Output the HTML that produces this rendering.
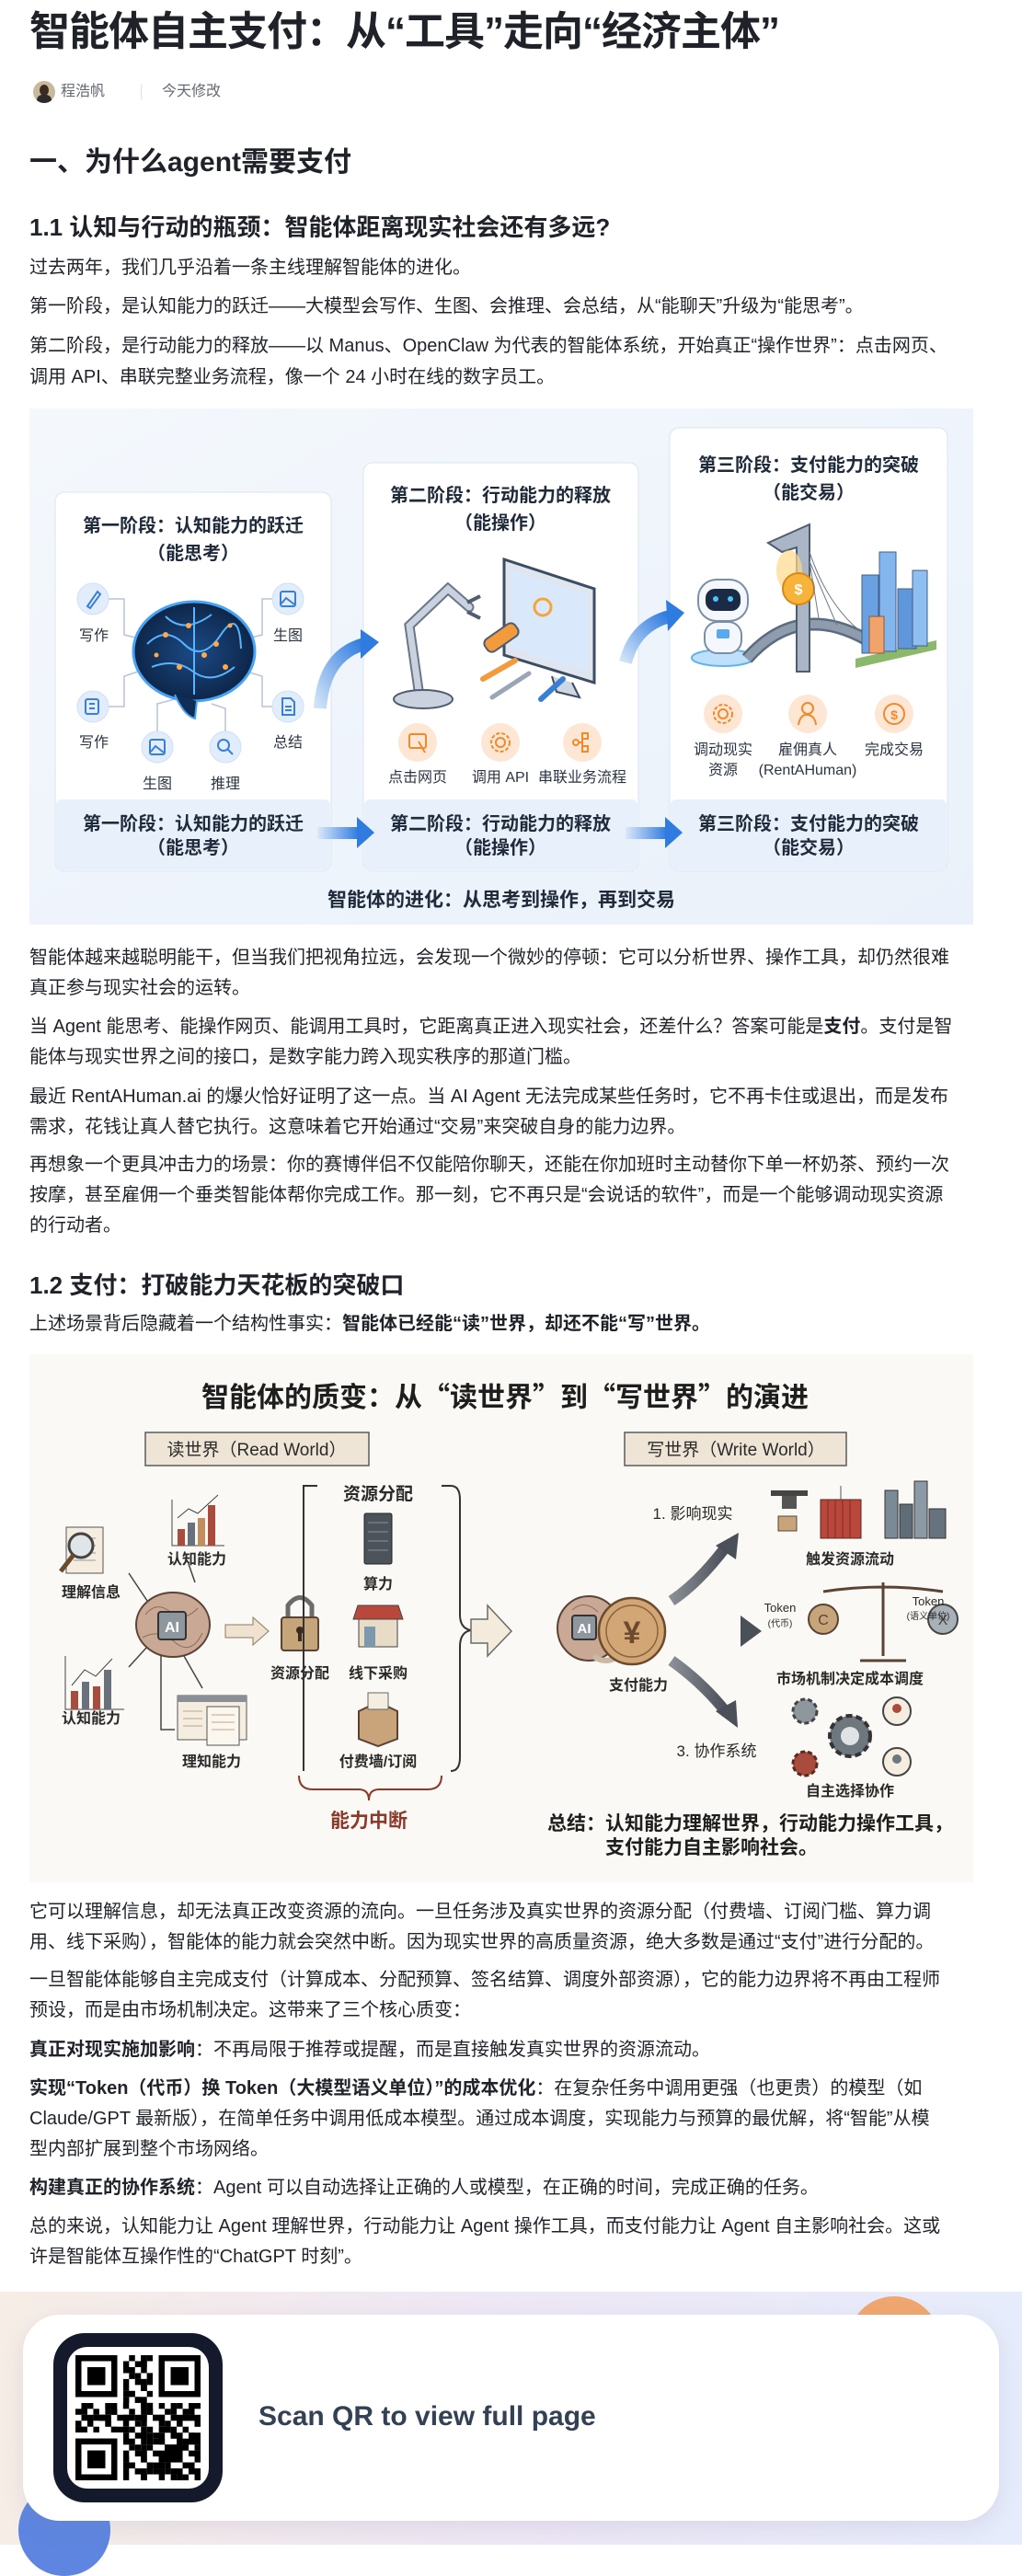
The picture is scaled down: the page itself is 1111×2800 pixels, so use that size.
<!DOCTYPE html>
<html><head><meta charset="utf-8">
<style>
*{margin:0;padding:0;box-sizing:border-box}
body{width:1111px;height:2766px;position:relative;background:#fff;font-family:"Liberation Sans","Noto Sans CJK SC",sans-serif;color:#1f2329;overflow:hidden}
.a{position:absolute;white-space:nowrap}
.p{position:absolute;left:32px;font-size:20px;line-height:33px;white-space:nowrap;color:#1f2329}
b{font-weight:700}
svg text{font-family:"Liberation Sans","Noto Sans CJK SC",sans-serif}
</style></head><body>

<div class="a" style="left:32px;top:8px;font-size:44px;line-height:54px;font-weight:700;letter-spacing:-1px">智能体自主支付：从“工具”走向“经济主体”</div>

<div class="a" style="left:36px;top:88px;width:24px;height:24px;border-radius:50%;background:#c9b89a;overflow:hidden"><div style="position:absolute;left:7px;top:4px;width:10px;height:12px;border-radius:50%;background:#3a2a20"></div><div style="position:absolute;left:4px;top:15px;width:16px;height:12px;border-radius:6px;background:#2b2b2b"></div></div>
<div class="a" style="left:66px;top:89px;font-size:16px;line-height:22px;color:#646a73">程浩帆</div>
<div class="a" style="left:153px;top:92px;width:1px;height:16px;background:#dee0e3"></div>
<div class="a" style="left:176px;top:89px;font-size:16px;line-height:22px;color:#646a73">今天修改</div>

<div class="a" style="left:32px;top:156px;font-size:30px;line-height:42px;font-weight:700">一、为什么agent需要支付</div>
<div class="a" style="left:32px;top:229px;font-size:26px;line-height:36px;font-weight:700">1.1 认知与行动的瓶颈：智能体距离现实社会还有多远?</div>

<div class="p" style="top:274px;line-height:34px">过去两年，我们几乎沿着一条主线理解智能体的进化。</div>
<div class="p" style="top:316px;line-height:34px">第一阶段，是认知能力的跃迁——大模型会写作、生图、会推理、会总结，从“能聊天”升级为“能思考”。</div>
<div class="p" style="top:359px;line-height:34px">第二阶段，是行动能力的释放——以 Manus、OpenClaw 为代表的智能体系统，开始真正“操作世界”：点击网页、<br>调用 API、串联完整业务流程，像一个 24 小时在线的数字员工。</div>

<svg class="a" style="left:32px;top:444px" width="1026" height="561" viewBox="32 444 1026 561">
<defs>
<linearGradient id="bg1" x1="0" y1="0" x2="1" y2="1"><stop offset="0" stop-color="#f4f8fd"/><stop offset="1" stop-color="#eaf1fa"/></linearGradient>
<linearGradient id="arr" x1="0" y1="1" x2="1" y2="0"><stop offset="0" stop-color="#cfe2f8"/><stop offset="1" stop-color="#2f7be0"/></linearGradient>
<linearGradient id="arrh" x1="0" y1="0" x2="1" y2="0"><stop offset="0" stop-color="#dbe9fa"/><stop offset="1" stop-color="#2f7be0"/></linearGradient>
<radialGradient id="brain" cx=".5" cy=".5" r=".6"><stop offset="0" stop-color="#1b4a86"/><stop offset="1" stop-color="#0b1f3c"/></radialGradient>
</defs>
<rect x="32" y="444" width="1026" height="561" fill="url(#bg1)"/>
<rect x="60" y="535" width="300" height="412" rx="10" fill="#fff" stroke="#dbe4f0"/>
<rect x="395" y="503" width="299" height="444" rx="10" fill="#fff" stroke="#dbe4f0"/>
<rect x="728" y="465" width="302" height="482" rx="10" fill="#fff" stroke="#dbe4f0"/>
<rect x="61" y="869" width="298" height="77" rx="6" fill="#e7f0fb"/>
<rect x="396" y="869" width="297" height="77" rx="6" fill="#e7f0fb"/>
<rect x="729" y="869" width="300" height="77" rx="6" fill="#e7f0fb"/>
<g font-size="20" font-weight="700" fill="#1f2a3a" text-anchor="middle">
<text x="210" y="578">第一阶段：认知能力的跃迁</text><text x="210" y="608">（能思考）</text>
<text x="544" y="545">第二阶段：行动能力的释放</text><text x="544" y="575">（能操作）</text>
<text x="879" y="512">第三阶段：支付能力的突破</text><text x="879" y="542">（能交易）</text>
<text x="210" y="902">第一阶段：认知能力的跃迁</text><text x="210" y="928">（能思考）</text>
<text x="544" y="902">第二阶段：行动能力的释放</text><text x="544" y="928">（能操作）</text>
<text x="879" y="902">第三阶段：支付能力的突破</text><text x="879" y="928">（能交易）</text>
<text x="545" y="985" font-size="21">智能体的进化：从思考到操作，再到交易</text>
</g>
<g stroke="#b8c4d4" stroke-width="1.5" fill="none">
<path d="M118 651 H135 V690 L155 695"/><path d="M296 651 H285 V690 L266 695"/>
<path d="M118 768 H135 V735 L150 730"/><path d="M296 768 H285 V735 L268 730"/>
<path d="M171 795 V765 L190 760"/><path d="M245 795 V770 L230 765"/>
</g>
<ellipse cx="211" cy="708" rx="66" ry="54" fill="url(#brain)" stroke="#47a3f5" stroke-width="3"/>
<path d="M190 755 Q200 778 212 781 L214 762" fill="#0f2d55" stroke="#47a3f5" stroke-width="2"/>
<g stroke="#59b4ff" stroke-width="2" fill="none">
<path d="M160 700 Q180 680 200 700 T240 690 T262 705"/><path d="M165 725 Q190 715 210 730 T255 725"/><path d="M180 670 Q200 690 230 668"/><path d="M211 660 V755"/>
</g>
<g fill="#ffa94d"><circle cx="180" cy="690" r="3"/><circle cx="205" cy="680" r="3"/><circle cx="235" cy="700" r="3"/><circle cx="195" cy="725" r="3"/><circle cx="245" cy="725" r="3"/><circle cx="222" cy="712" r="3"/><circle cx="170" cy="712" r="2.5"/><circle cx="250" cy="680" r="2.5"/></g>
<g fill="#e2edfb" stroke="#cfe0f6"><circle cx="101" cy="651" r="17"/><circle cx="313" cy="651" r="17"/><circle cx="101" cy="768" r="17"/><circle cx="313" cy="768" r="17"/><circle cx="171" cy="812" r="17"/><circle cx="245" cy="812" r="17"/></g>
<g stroke="#3a7fd6" stroke-width="2" fill="none">
<path d="M95 659 L106 643 L109 646 L98 661 Z"/><rect x="305" y="643" width="16" height="16" rx="2"/><path d="M306 656 L311 650 L320 657"/>
<rect x="93" y="760" width="14" height="16" rx="2"/><path d="M97 765 H103 M97 770 H103"/><path d="M307 759 H316 L320 763 V777 H307 Z"/><path d="M310 768 H317 M310 772 H317"/>
<rect x="163" y="804" width="16" height="16" rx="2"/><path d="M164 817 L169 811 L178 818"/><circle cx="243" cy="810" r="6"/><path d="M247 814 L253 820"/>
</g>
<g font-size="16" fill="#2a3442" text-anchor="middle"><text x="102" y="696">写作</text><text x="313" y="696">生图</text><text x="102" y="812">写作</text><text x="313" y="812">总结</text><text x="171" y="857">生图</text><text x="245" y="857">推理</text></g>
<path d="M348 770 Q352 712 396 700" fill="none" stroke="url(#arr)" stroke-width="14"/>
<polygon points="392,684 412,698 392,716" fill="#2f7be0"/>
<path d="M680 720 Q690 680 728 670" fill="none" stroke="url(#arr)" stroke-width="14"/>
<polygon points="724,652 744,666 726,686" fill="#2f7be0"/>
<rect x="345" y="899" width="45" height="13" fill="url(#arrh)"/><polygon points="388,888 407,905 388,922" fill="#2f7be0"/>
<rect x="680" y="899" width="45" height="13" fill="url(#arrh)"/><polygon points="723,888 742,905 723,922" fill="#2f7be0"/>
<path d="M548 608 L646 640 L646 742 L548 712 Z" fill="#dfe6ef" stroke="#3b4c63" stroke-width="3"/>
<path d="M555 620 L639 647 L639 730 L555 704 Z" fill="#d9e9fb"/>
<circle cx="590" cy="660" r="9" fill="none" stroke="#f6a53a" stroke-width="3"/>
<path d="M600 735 L605 752 L630 758 L622 742" fill="#cfd7e2" stroke="#3b4c63" stroke-width="2"/>
<g stroke="#6a7789" stroke-width="11" stroke-linecap="round" fill="none"><path d="M455 750 L445 680 L487 640 L510 660"/></g>
<g stroke="#c9d2de" stroke-width="7" stroke-linecap="round" fill="none"><path d="M455 750 L445 680 L487 640 L510 660"/></g>
<ellipse cx="460" cy="760" rx="32" ry="10" fill="#c9d2de" stroke="#4f5d70" stroke-width="2"/>
<path d="M508 655 L522 648 M508 665 L522 672" stroke="#4f5d70" stroke-width="4"/>
<rect x="525" y="685" width="40" height="16" rx="6" fill="#f29a3c" stroke="#4f5d70" stroke-width="2" transform="rotate(-35 545 693)"/>
<path d="M525 738 L560 718" stroke="#f29a3c" stroke-width="6" stroke-linecap="round"/>
<path d="M535 758 L575 732" stroke="#9aa6b5" stroke-width="5" stroke-linecap="round"/>
<path d="M588 760 L612 738" stroke="#3a7fd6" stroke-width="6" stroke-linecap="round"/>
<g fill="#fde6d3"><circle cx="454" cy="807" r="21"/><circle cx="544" cy="807" r="21"/><circle cx="633" cy="807" r="21"/></g>
<g stroke="#f08a2a" stroke-width="2" fill="none"><rect x="445" y="798" width="18" height="15" rx="2"/><path d="M455 806 L462 818"/><circle cx="544" cy="807" r="5"/><circle cx="544" cy="807" r="10" stroke-dasharray="4 2"/><circle cx="626" cy="807" r="3"/><rect x="633" y="797" width="6" height="6"/><rect x="633" y="811" width="6" height="6"/><path d="M629 807 H633 M633 800 V814"/></g>
<g font-size="16" fill="#2a3442" text-anchor="middle"><text x="454" y="850">点击网页</text><text x="544" y="850">调用 API</text><text x="633" y="850">串联业务流程</text></g>
<ellipse cx="786" cy="715" rx="34" ry="9" fill="#bfe0fb" stroke="#5fb2f2" stroke-width="2"/>
<rect x="759" y="630" width="54" height="45" rx="20" fill="#f4f7fb" stroke="#7c8ea6" stroke-width="2"/>
<rect x="767" y="640" width="38" height="24" rx="10" fill="#1b2b45"/>
<circle cx="778" cy="651" r="3" fill="#4fc3ff"/><circle cx="794" cy="651" r="3" fill="#4fc3ff"/>
<rect x="766" y="676" width="40" height="34" rx="14" fill="#f4f7fb" stroke="#7c8ea6" stroke-width="2"/>
<rect x="779" y="684" width="14" height="10" rx="2" fill="#5aa8ee"/>
<path d="M812 716 Q870 650 950 700" fill="none" stroke="#5b6b80" stroke-width="14"/>
<path d="M812 716 Q870 650 950 700" fill="none" stroke="#8e9cae" stroke-width="9"/>
<path d="M835 590 L880 570 L880 730 L866 730 L866 595 L850 600 Z" fill="#aab6c6" stroke="#4f5d70" stroke-width="2"/>
<ellipse cx="858" cy="620" rx="14" ry="22" fill="#ffd98a" opacity=".7"/>
<circle cx="868" cy="640" r="17" fill="#f8b33a" stroke="#d88814" stroke-width="2"/><text x="868" y="646" font-size="16" font-weight="700" fill="#fff" text-anchor="middle">$</text>
<g stroke="#6c7a8e" stroke-width="1" fill="none"><path d="M880 600 Q900 660 940 690 M880 610 L890 672 M880 610 L910 680"/></g>
<path d="M930 716 L1018 696 L1018 706 L930 726 Z" fill="#8bb86b"/>
<rect x="937" y="625" width="18" height="85" fill="#6aa1e3" stroke="#3f5f8a"/>
<rect x="956" y="600" width="18" height="108" fill="#84b6ee" stroke="#3f5f8a"/>
<rect x="976" y="640" width="20" height="65" fill="#5f97da" stroke="#3f5f8a"/>
<rect x="992" y="620" width="16" height="82" fill="#8fbff1" stroke="#3f5f8a"/>
<rect x="945" y="670" width="16" height="40" fill="#f2a36b" stroke="#8a5a3a"/>
<g fill="#fde6d3"><circle cx="786" cy="776" r="21"/><circle cx="878" cy="776" r="21"/><circle cx="972" cy="776" r="21"/></g>
<g stroke="#f08a2a" stroke-width="2" fill="none"><circle cx="786" cy="776" r="5"/><circle cx="786" cy="776" r="10" stroke-dasharray="4 2"/><circle cx="878" cy="770" r="6"/><path d="M868 788 Q870 776 878 777 Q886 778 887 788"/><circle cx="972" cy="776" r="11"/></g>
<text x="972" y="782" font-size="14" fill="#f08a2a" text-anchor="middle" font-weight="700">$</text>
<g font-size="16" fill="#2a3442" text-anchor="middle"><text x="786" y="820">调动现实</text><text x="786" y="842">资源</text><text x="878" y="820">雇佣真人</text><text x="878" y="842">(RentAHuman)</text><text x="972" y="820">完成交易</text></g>
</svg>

<div class="p" style="top:1025px">智能体越来越聪明能干，但当我们把视角拉远，会发现一个微妙的停顿：它可以分析世界、操作工具，却仍然很难<br>真正参与现实社会的运转。</div>
<div class="p" style="top:1100px">当 Agent 能思考、能操作网页、能调用工具时，它距离真正进入现实社会，还差什么？答案可能是<b>支付</b>。支付是智<br>能体与现实世界之间的接口，是数字能力跨入现实秩序的那道门槛。</div>
<div class="p" style="top:1176px">最近 RentAHuman.ai 的爆火恰好证明了这一点。当 AI Agent 无法完成某些任务时，它不再卡住或退出，而是发布<br>需求，花钱让真人替它执行。这意味着它开始通过“交易”来突破自身的能力边界。</div>
<div class="p" style="top:1250px">再想象一个更具冲击力的场景：你的赛博伴侣不仅能陪你聊天，还能在你加班时主动替你下单一杯奶茶、预约一次<br>按摩，甚至雇佣一个垂类智能体帮你完成工作。那一刻，它不再只是“会说话的软件”，而是一个能够调动现实资源<br>的行动者。</div>

<div class="a" style="left:32px;top:1379px;font-size:26px;line-height:36px;font-weight:700">1.2 支付：打破能力天花板的突破口</div>
<div class="p" style="top:1423px">上述场景背后隐藏着一个结构性事实：<b>智能体已经能“读”世界，却还不能“写”世界。</b></div>

<svg class="a" style="left:32px;top:1472px" width="1026" height="574" viewBox="32 1472 1026 574">
<defs>
<linearGradient id="gd" x1="0" y1="0" x2="1" y2="0"><stop offset="0" stop-color="#8a8f96"/><stop offset="1" stop-color="#4b5058"/></linearGradient>
</defs>
<rect x="32" y="1472" width="1026" height="574" fill="#fbf9f5"/>
<text x="549" y="1529" font-size="30" font-weight="700" fill="#1e1e1e" text-anchor="middle" style="font-family:'Noto Sans CJK SC',sans-serif">智能体的质变：从“读世界”到“写世界”的演进</text>
<rect x="158" y="1557" width="243" height="36" fill="#efe5d6" stroke="#5a5a5a" stroke-width="1.5"/>
<text x="279" y="1582" font-size="19" fill="#2a2a2a" text-anchor="middle">读世界（Read World）</text>
<rect x="679" y="1557" width="241" height="36" fill="#efe5d6" stroke="#5a5a5a" stroke-width="1.5"/>
<text x="800" y="1582" font-size="19" fill="#2a2a2a" text-anchor="middle">写世界（Write World）</text>
<g stroke="#444" stroke-width="1.5" fill="none"><path d="M140 1710 L160 1740"/><path d="M205 1700 L212 1720"/><path d="M160 1790 L140 1812"/><path d="M175 1800 V1880 H190"/><path d="M200 1800 L220 1835"/></g>
<rect x="72" y="1660" width="40" height="50" fill="#f4ede0" stroke="#555"/><g stroke="#999"><path d="M80 1672 H104 M80 1680 H104 M80 1688 H104 M80 1696 H104"/></g>
<circle cx="88" cy="1680" r="13" fill="#dfe5e8" stroke="#444" stroke-width="3"/><path d="M80 1690 L66 1708" stroke="#6b4a2e" stroke-width="5"/>
<text x="99" y="1736" font-size="16" font-weight="700" fill="#2a2a2a" text-anchor="middle">理解信息</text>
<path d="M187 1630 V1680 H244" fill="none" stroke="#444"/><rect x="193" y="1662" width="8" height="18" fill="#a94c3d"/><rect x="204" y="1655" width="8" height="25" fill="#69727c"/><rect x="215" y="1650" width="8" height="30" fill="#c28e5e"/><rect x="226" y="1636" width="8" height="44" fill="#a94c3d"/><path d="M193 1650 L205 1640 L215 1645 L237 1625" fill="none" stroke="#444"/>
<text x="214" y="1700" font-size="16" font-weight="700" fill="#2a2a2a" text-anchor="middle">认知能力</text>
<path d="M71 1800 V1858 H135" fill="none" stroke="#444"/><rect x="77" y="1838" width="8" height="20" fill="#a94c3d"/><rect x="89" y="1828" width="8" height="30" fill="#69727c"/><rect x="101" y="1833" width="8" height="25" fill="#a94c3d"/><rect x="113" y="1815" width="8" height="43" fill="#69727c"/><path d="M78 1832 L92 1815 L104 1822 L122 1803" fill="none" stroke="#444"/>
<text x="99" y="1873" font-size="16" font-weight="700" fill="#2a2a2a" text-anchor="middle">认知能力</text>
<rect x="193" y="1843" width="75" height="48" fill="#f4ede0" stroke="#555"/><rect x="193" y="1843" width="75" height="7" fill="#8a8f96"/><rect x="225" y="1855" width="35" height="42" fill="#fbf7ee" stroke="#555"/><g stroke="#b9a88c"><path d="M199 1860 H220 M199 1868 H220 M199 1876 H220 M230 1864 H255 M230 1872 H255 M230 1880 H255"/></g>
<text x="230" y="1920" font-size="16" font-weight="700" fill="#2a2a2a" text-anchor="middle">理知能力</text>
<ellipse cx="188" cy="1766" rx="40" ry="35" fill="#c9a995" stroke="#5a4335" stroke-width="2"/>
<g stroke="#8e6b58" fill="none"><path d="M158 1755 Q170 1740 185 1752 T215 1748"/><path d="M155 1780 Q172 1770 190 1785 T220 1775"/></g>
<rect x="172" y="1752" width="30" height="30" rx="3" fill="#8f979e" stroke="#333" stroke-width="2"/><text x="187" y="1774" font-size="16" font-weight="700" fill="#fff" text-anchor="middle">AI</text>
<path d="M245 1766 H275 V1758 L292 1773 L275 1788 V1780 H245 Z" fill="#efe3cf" stroke="#8a7a62"/>
<path d="M313 1760 V1745 Q326 1728 339 1745 V1760" fill="none" stroke="#6b6b6b" stroke-width="5"/>
<rect x="306" y="1758" width="40" height="36" rx="3" fill="#c7a57a" stroke="#5a4335" stroke-width="2"/><circle cx="326" cy="1772" r="4" fill="#3a2a20"/><rect x="324" y="1774" width="4" height="10" fill="#3a2a20"/>
<text x="326" y="1824" font-size="16" font-weight="700" fill="#2a2a2a" text-anchor="middle">资源分配</text>
<path d="M330 1920 V1615 H345 M480 1615 H490 Q500 1615 500 1630 V1755 Q500 1770 512 1772 M512 1772 Q500 1774 500 1790 V1910 Q500 1925 490 1925" fill="none" stroke="#333" stroke-width="2"/>
<path d="M330 1625 V1925" stroke="#333" stroke-width="2" stroke-dasharray="12 6"/>
<text x="411" y="1630" font-size="19" font-weight="700" fill="#2a2a2a" text-anchor="middle">资源分配</text>
<path d="M325 1930 Q325 1945 340 1945 H390 Q401 1945 401 1957 Q401 1945 412 1945 H465 Q480 1945 480 1930" fill="none" stroke="#8b3a2a" stroke-width="2"/>
<text x="401" y="1986" font-size="21" font-weight="700" fill="#8b3a2a" text-anchor="middle">能力中断</text>
<rect x="396" y="1645" width="30" height="55" rx="2" fill="#4d535b" stroke="#222"/><g stroke="#8a9098"><path d="M400 1655 H422 M400 1665 H422 M400 1675 H422 M400 1685 H422"/></g>
<text x="411" y="1727" font-size="16" font-weight="700" fill="#2a2a2a" text-anchor="middle">算力</text>
<path d="M389 1745 H433 L438 1760 H384 Z" fill="#b9473b" stroke="#444"/><rect x="390" y="1760" width="42" height="30" fill="#e8dcc8" stroke="#444"/><rect x="396" y="1768" width="12" height="22" fill="#7d98ad"/>
<text x="411" y="1824" font-size="16" font-weight="700" fill="#2a2a2a" text-anchor="middle">线下采购</text>
<path d="M390 1860 L411 1850 L432 1860 L432 1890 L411 1898 L390 1890 Z" fill="#c9a47a" stroke="#5a4335" stroke-width="2"/><rect x="400" y="1840" width="22" height="18" fill="#f4ede0" stroke="#666"/>
<text x="411" y="1920" font-size="16" font-weight="700" fill="#2a2a2a" text-anchor="middle">付费墙/订阅</text>
<path d="M512 1760 H530 V1745 L556 1773 L530 1800 V1786 H512 Z" fill="#f5ebdc" stroke="#6b6b6b" stroke-width="1.5"/>
<ellipse cx="640" cy="1770" rx="34" ry="35" fill="#c9a995" stroke="#5a4335" stroke-width="2"/>
<path d="M622 1750 Q635 1738 650 1752" fill="none" stroke="#8e6b58"/>
<rect x="622" y="1756" width="26" height="26" rx="3" fill="#8f979e" stroke="#333" stroke-width="2"/><text x="635" y="1775" font-size="15" font-weight="700" fill="#fff" text-anchor="middle">AI</text>
<path d="M645 1800 Q660 1812 680 1795" fill="none" stroke="#c9b9a5" stroke-width="6"/>
<circle cx="687" cy="1773" r="36" fill="#d3a775" stroke="#6b4a2e" stroke-width="2.5"/><circle cx="687" cy="1773" r="28" fill="none" stroke="#8a6340" stroke-width="1.5"/>
<text x="687" y="1786" font-size="34" font-weight="700" fill="#6b4a2e" text-anchor="middle">¥</text>
<text x="694" y="1837" font-size="16" font-weight="700" fill="#2a2a2a" text-anchor="middle">支付能力</text>
<path d="M730 1740 Q760 1720 790 1680" fill="none" stroke="url(#gd)" stroke-width="12"/><polygon points="778,1680 803,1666 800,1695" fill="#4b5058"/>
<path d="M735 1773 H808" stroke="url(#gd)" stroke-width="14"/><polygon points="805,1756 828,1773 805,1790" fill="#4b5058"/>
<path d="M730 1805 Q765 1830 790 1862" fill="none" stroke="url(#gd)" stroke-width="12"/><polygon points="778,1860 802,1878 800,1848" fill="#4b5058"/>
<text x="753" y="1651" font-size="17" fill="#2a2a2a" text-anchor="middle">1. 影响现实</text>
<rect x="838" y="1620" width="40" height="6" fill="#444"/><path d="M850 1626 V1640 H866 V1626" fill="#555"/><rect x="846" y="1648" width="20" height="16" fill="#c9a47a" stroke="#5a4335"/>
<rect x="892" y="1630" width="44" height="42" fill="#b9473b" stroke="#5a2a20"/><g stroke="#7d2e25"><path d="M900 1630 V1672 M908 1630 V1672 M916 1630 V1672 M924 1630 V1672"/></g><path d="M914 1630 L914 1615" stroke="#555"/>
<rect x="962" y="1620" width="14" height="52" fill="#7b8a97" stroke="#333"/><rect x="978" y="1635" width="14" height="37" fill="#5f6d79" stroke="#333"/><rect x="994" y="1610" width="14" height="62" fill="#8c9aa6" stroke="#333"/><rect x="1010" y="1640" width="18" height="32" fill="#66737f" stroke="#333"/>
<text x="924" y="1700" font-size="16" font-weight="700" fill="#2a2a2a" text-anchor="middle">触发资源流动</text>
<path d="M960 1720 V1800 M935 1805 H985 M895 1730 Q960 1720 1025 1730" fill="none" stroke="#5a4335" stroke-width="3"/>
<circle cx="895" cy="1760" r="16" fill="#c7a57a" stroke="#5a4335" stroke-width="2"/><text x="895" y="1766" font-size="16" fill="#5a4335" text-anchor="middle">C</text>
<circle cx="1025" cy="1760" r="16" fill="#a8b0b8" stroke="#444" stroke-width="2"/><text x="1025" y="1766" font-size="16" fill="#444" text-anchor="middle">X</text>
<g font-size="13" fill="#2a2a2a" text-anchor="middle"><text x="848" y="1752">Token</text><text x="848" y="1768" font-size="10">(代币)</text><text x="1009" y="1745">Token</text><text x="1009" y="1760" font-size="10">(语义单位)</text></g>
<text x="924" y="1830" font-size="16" font-weight="700" fill="#2a2a2a" text-anchor="middle">市场机制决定成本调度</text>
<text x="779" y="1909" font-size="17" fill="#2a2a2a" text-anchor="middle">3. 协作系统</text>
<circle cx="875" cy="1860" r="13" fill="#8f979e" stroke="#444" stroke-width="3" stroke-dasharray="5 3"/>
<circle cx="924" cy="1887" r="22" fill="#6e767e" stroke="#333" stroke-width="4" stroke-dasharray="7 4"/><circle cx="924" cy="1887" r="10" fill="#dfe3e6"/>
<circle cx="875" cy="1917" r="13" fill="#a94c3d" stroke="#5a2a20" stroke-width="3" stroke-dasharray="5 3"/>
<circle cx="975" cy="1860" r="15" fill="#f4ede0" stroke="#444" stroke-width="2"/><circle cx="975" cy="1857" r="5" fill="#a94c3d"/>
<circle cx="975" cy="1915" r="15" fill="#f4ede0" stroke="#444" stroke-width="2"/><circle cx="975" cy="1912" r="5" fill="#6e767e"/>
<text x="924" y="1952" font-size="16" font-weight="700" fill="#2a2a2a" text-anchor="middle">自主选择协作</text>
<text x="595" y="1989" font-size="21" font-weight="700" fill="#1e1e1e">总结：认知能力理解世界，行动能力操作工具，</text>
<text x="658" y="2015" font-size="21" font-weight="700" fill="#1e1e1e">支付能力自主影响社会。</text>
</svg>

<div class="p" style="top:2062px">它可以理解信息，却无法真正改变资源的流向。一旦任务涉及真实世界的资源分配（付费墙、订阅门槛、算力调<br>用、线下采购），智能体的能力就会突然中断。因为现实世界的高质量资源，绝大多数是通过“支付”进行分配的。</div>
<div class="p" style="top:2136px">一旦智能体能够自主完成支付（计算成本、分配预算、签名结算、调度外部资源），它的能力边界将不再由工程师<br>预设，而是由市场机制决定。这带来了三个核心质变：</div>
<div class="p" style="top:2212px"><b>真正对现实施加影响</b>：不再局限于推荐或提醒，而是直接触发真实世界的资源流动。</div>
<div class="p" style="top:2254px"><b>实现“Token（代币）换 Token（大模型语义单位）”的成本优化</b>：在复杂任务中调用更强（也更贵）的模型（如<br>Claude/GPT 最新版），在简单任务中调用低成本模型。通过成本调度，实现能力与预算的最优解，将“智能”从模<br>型内部扩展到整个市场网络。</div>
<div class="p" style="top:2362px"><b>构建真正的协作系统</b>：Agent 可以自动选择让正确的人或模型，在正确的时间，完成正确的任务。</div>
<div class="p" style="top:2404px">总的来说，认知能力让 Agent 理解世界，行动能力让 Agent 操作工具，而支付能力让 Agent 自主影响社会。这或<br>许是智能体互操作性的“ChatGPT 时刻”。</div>

<div class="a" style="left:0;top:2491px;width:1111px;height:275px;background:linear-gradient(90deg,#f6ede6 0%,#eee7f5 50%,#e6ecfb 100%)"></div>
<div class="a" style="left:922px;top:2496px;width:100px;height:100px;border-radius:50%;background:#f0a76f"></div>
<div class="a" style="left:20px;top:2700px;width:100px;height:100px;border-radius:50%;background:#5e86e0"></div>
<div class="a" style="left:25px;top:2516px;width:1061px;height:224px;border-radius:40px;background:#fff;box-shadow:0 8px 24px rgba(120,120,160,.15)"></div>
<div class="a" style="left:58px;top:2536px;width:184px;height:184px;border-radius:34px;background:#141a2b"></div>
<div class="a" style="left:73px;top:2551px;width:154px;height:154px;border-radius:22px;background:#fff"></div>
<svg class="a" style="left:82px;top:2560px" width="136" height="136" viewBox="0 0 21 21" shape-rendering="crispEdges">
<defs>
<pattern id="q1" width="3" height="3" patternUnits="userSpaceOnUse"><rect x="0" y="0" width="1" height="1"/><rect x="1" y="1" width="2" height="1"/><rect x="2" y="2" width="1" height="1"/></pattern>
<pattern id="q2" width="5" height="4" patternUnits="userSpaceOnUse"><rect x="1" y="0" width="1" height="2"/><rect x="3" y="2" width="2" height="1"/><rect x="0" y="3" width="1" height="1"/></pattern>
<pattern id="q3" width="7" height="5" patternUnits="userSpaceOnUse"><rect x="4" y="0" width="1" height="1"/><rect x="5" y="3" width="1" height="2"/><rect x="0" y="2" width="2" height="1"/></pattern>
</defs>
<rect width="21" height="21" fill="url(#q1)"/><rect width="21" height="21" fill="url(#q2)"/><rect width="21" height="21" fill="url(#q3)"/>
<g fill="#fff"><rect x="0" y="0" width="8" height="8"/><rect x="13" y="0" width="8" height="8"/><rect x="0" y="13" width="8" height="8"/></g>
<g fill="#000"><rect x="0" y="0" width="7" height="7"/><rect x="14" y="0" width="7" height="7"/><rect x="0" y="14" width="7" height="7"/></g>
<g fill="#fff"><rect x="1" y="1" width="5" height="5"/><rect x="15" y="1" width="5" height="5"/><rect x="1" y="15" width="5" height="5"/></g>
<g fill="#000"><rect x="2" y="2" width="3" height="3"/><rect x="16" y="2" width="3" height="3"/><rect x="2" y="16" width="3" height="3"/><rect x="15" y="15" width="3" height="3"/></g>
</svg>
<div class="a" style="left:281px;top:2608px;font-size:30px;line-height:38px;font-weight:700;color:#334155">Scan QR to view full page</div>
</body></html>
